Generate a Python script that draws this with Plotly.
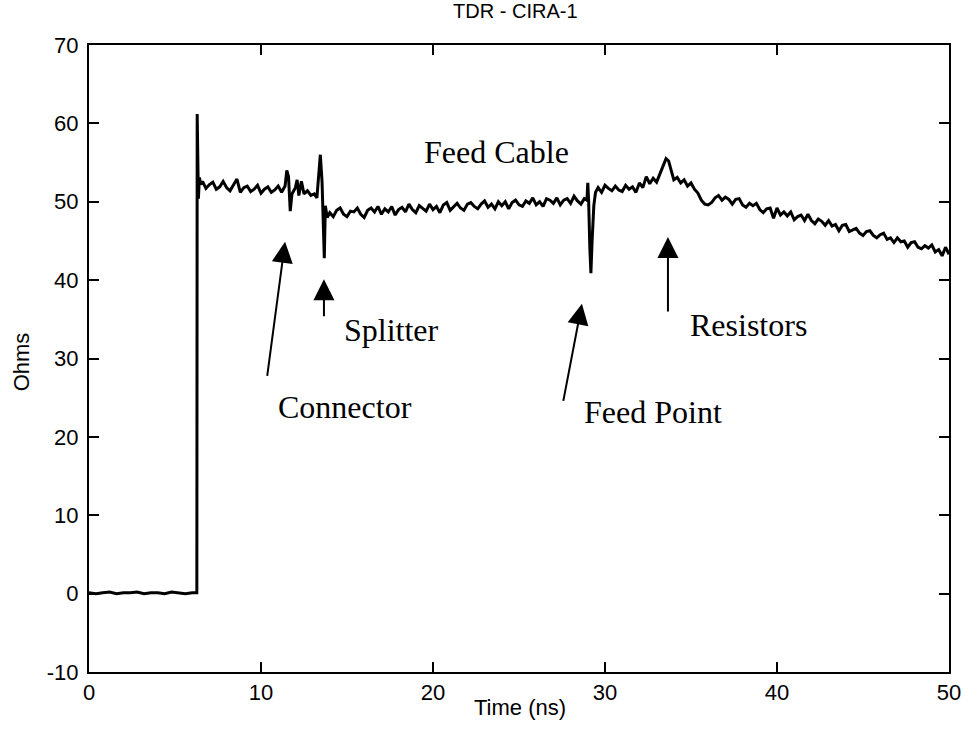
import plotly.graph_objects as go

# ── TDR trace ───────────────────────────────────────────────────────────────
time_ns = [
    0.0, 0.4, 0.8, 1.2, 1.6, 2.0, 2.4, 2.8, 3.2, 3.6, 4.0, 4.4, 4.8, 5.2, 5.6, 6.0, 6.25,
    6.27, 6.29, 6.32, 6.36, 6.42, 6.5,
    6.6, 6.8, 7.0, 7.2, 7.4, 7.6, 7.8, 8.0, 8.2, 8.4, 8.6, 8.8, 9.0, 9.2, 9.4, 9.6, 9.8,
    10.0, 10.2, 10.4, 10.6, 10.8, 11.0, 11.2,
    11.4, 11.5, 11.6, 11.7, 11.8, 12.0, 12.1, 12.2, 12.35, 12.5, 12.7, 12.9, 13.1, 13.25,
    13.35, 13.45, 13.55, 13.62, 13.68, 13.74, 13.85,
    14.0, 14.2, 14.4, 14.6, 14.8, 15.0, 15.2, 15.4, 15.6, 15.8, 16.0, 16.2, 16.4, 16.6, 16.8,
    17.0, 17.2, 17.4, 17.6, 17.8, 18.0, 18.2, 18.4, 18.6, 18.8, 19.0, 19.2, 19.4, 19.6, 19.8,
    20.0, 20.2, 20.4, 20.6, 20.8, 21.0, 21.2, 21.4, 21.6, 21.8, 22.0, 22.2, 22.4, 22.6, 22.8,
    23.0, 23.2, 23.4, 23.6, 23.8, 24.0, 24.2, 24.4, 24.6, 24.8, 25.0, 25.2, 25.4, 25.6, 25.8,
    26.0, 26.2, 26.4, 26.6, 26.8, 27.0, 27.2, 27.4, 27.6, 27.8, 28.0, 28.2, 28.4, 28.6, 28.8,
    28.95, 29.0, 29.05, 29.12, 29.18, 29.25, 29.35, 29.45,
    29.6, 29.8, 30.0, 30.2, 30.4, 30.6, 30.8, 31.0, 31.2, 31.4, 31.6, 31.8,
    32.0, 32.2, 32.4, 32.6, 32.8, 33.0, 33.2, 33.4, 33.55, 33.7, 33.85,
    34.0, 34.2, 34.4, 34.6, 34.8, 35.0, 35.2, 35.4, 35.6, 35.8,
    36.0, 36.2, 36.4, 36.6, 36.8, 37.0, 37.2, 37.4, 37.6, 37.8,
    38.0, 38.2, 38.4, 38.6, 38.8, 39.0, 39.2, 39.4, 39.6, 39.8,
    40.0, 40.2, 40.4, 40.6, 40.8, 41.0, 41.2, 41.4, 41.6, 41.8,
    42.0, 42.2, 42.4, 42.6, 42.8, 43.0, 43.2, 43.4, 43.6, 43.8,
    44.0, 44.2, 44.4, 44.6, 44.8, 45.0, 45.2, 45.4, 45.6, 45.8,
    46.0, 46.2, 46.4, 46.6, 46.8, 47.0, 47.2, 47.4, 47.6, 47.8,
    48.0, 48.2, 48.4, 48.6, 48.8, 49.0, 49.2, 49.4, 49.6, 49.8, 50.0,
]

ohms = [
    0.1, 0.0, 0.1, 0.2, 0.0, 0.1, 0.1, 0.2, 0.0, 0.1, 0.1, 0.0, 0.2, 0.1, 0.0, 0.1, 0.1,
    0.1, 61.2, 52.8, 50.4, 53.1, 52.2,
    52.6, 51.7, 52.2, 52.5, 51.6, 51.9, 52.6, 51.8, 51.4, 52.1, 52.9, 51.2, 51.8, 52.0, 51.3,
    51.6, 52.1, 51.1, 51.6, 51.9, 51.2, 51.5, 52.0, 51.2,
    52.0, 54.0, 53.2, 48.8, 51.0, 51.8, 52.8, 50.8, 52.6, 51.0, 51.4, 50.8, 51.0, 50.5,
    53.0, 56.0, 52.5, 48.0, 42.8, 49.5, 48.0,
    48.6, 48.1, 48.9, 49.2, 48.4, 48.1, 48.8, 48.7, 49.2, 48.4, 48.0, 48.9, 49.2, 48.7, 49.4,
    48.4, 49.1, 48.7, 49.4, 48.3, 49.0, 49.3, 48.7, 49.7, 49.0, 48.6, 49.5, 49.2, 48.8, 49.7,
    49.0, 49.4, 48.6, 49.6, 49.9, 48.9, 49.3, 49.8, 49.2, 48.9, 49.7, 49.9, 49.4, 49.1, 49.7,
    50.1, 49.3, 49.7, 49.1, 50.0, 49.5, 50.0, 49.1, 49.9, 50.2, 49.6, 49.4, 50.1, 49.8, 50.5,
    49.6, 50.0, 49.4, 50.4, 50.2, 49.8, 50.5, 49.6, 50.2, 50.4, 49.8, 50.7, 50.1, 49.7, 50.4,
    50.2, 52.4, 50.0, 44.0, 40.9, 45.0, 49.5, 51.2,
    51.8, 51.2, 52.1, 51.7, 51.4, 52.0, 51.5, 51.3, 52.1, 51.6, 51.9, 51.2,
    52.4, 51.8, 53.2, 52.3, 53.0, 52.5, 53.6, 54.6, 55.5, 55.2, 53.8,
    52.8, 53.1, 52.4, 52.8, 52.0, 52.4, 51.6, 51.1, 50.2, 49.7,
    49.6, 49.9, 50.5, 50.8, 50.2, 50.6, 50.3, 49.7, 50.3, 50.4,
    49.6, 49.3, 49.8, 49.5, 49.8, 49.0, 48.6, 49.1, 49.2, 47.9,
    49.2, 48.3, 48.7, 48.2, 48.7, 47.7, 48.1, 48.3, 47.6, 48.4,
    47.6, 47.2, 47.8, 47.5, 47.0, 47.6, 46.9, 47.1, 46.3, 47.0,
    47.1, 46.2, 46.4, 46.6, 46.0, 45.7, 46.2, 46.3, 45.7, 45.4,
    45.8, 46.0, 45.2, 45.4, 44.8, 45.4, 44.9, 45.0, 44.2, 44.8,
    44.9, 44.2, 44.0, 44.4, 44.1, 44.5, 43.6, 43.9, 43.1, 44.2, 43.3,
]

# ── Callouts: (label, arrow tip x/y, arrow tail x/y, label x/y, anchor) ───────
callouts = [
    ("Connector",  11.40, 44.9, 10.35, 27.6, 14.9, 23.8, "center"),
    ("Splitter",   13.66, 40.1, 13.66, 35.2, 17.6, 33.6, "center"),
    ("Feed Point", 28.66, 37.0, 27.56, 24.4, 32.8, 23.2, "center"),
    ("Resistors",  33.66, 45.5, 33.66, 35.8, 34.8, 34.3, "left"),
]
y_ticks = [-10, 0, 10, 20, 30, 40, 50, 60, 70]
x_ticks = [0, 10, 20, 30, 40, 50]

SERIF = "Liberation Serif, Times New Roman, serif"
SANS = "Liberation Sans, Arial, sans-serif"

fig = go.Figure()
fig.add_trace(go.Scatter(
    x=time_ns, y=ohms, mode="lines",
    line=dict(color="black", width=3),
    showlegend=False, hoverinfo="skip",
))

annotations = []
for label, tx, ty, ax, ay, lx, ly, anchor in callouts:
    annotations.append(dict(
        x=tx, y=ty, ax=ax, ay=ay, xref="x", yref="y", axref="x", ayref="y",
        text="", showarrow=True, arrowhead=2, arrowsize=2.1, arrowwidth=2,
        arrowcolor="black", standoff=0,
    ))
    annotations.append(dict(
        x=lx, y=ly, xref="x", yref="y", text=label, showarrow=False,
        xanchor=anchor, yanchor="middle",
        font=dict(family=SERIF, size=32, color="black"),
    ))

annotations.append(dict(
    x=23.7, y=56.4, xref="x", yref="y", text="Feed Cable", showarrow=False,
    xanchor="center", yanchor="middle",
    font=dict(family=SERIF, size=32, color="black"),
))
annotations.append(dict(
    x=-0.079, y=0.494, xref="paper", yref="paper", text="Ohms", textangle=-90,
    xanchor="center", yanchor="middle",
    showarrow=False, font=dict(family=SANS, size=22, color="black"),
))
annotations.append(dict(
    x=0.501, y=-0.056, xref="paper", yref="paper", text="Time (ns)",
    xanchor="center", yanchor="middle",
    showarrow=False, font=dict(family=SANS, size=22, color="black"),
))

axis_style = dict(
    showgrid=False, zeroline=False, automargin=False,
    showline=True, linecolor="black", linewidth=2, mirror="allticks",
    ticks="inside", ticklen=10, tickwidth=2, tickcolor="black",
    tickfont=dict(family=SANS, size=22, color="black"),
)

fig.update_layout(
    width=965, height=742,
    paper_bgcolor="white", plot_bgcolor="white",
    margin=dict(l=89, r=16, t=45, b=70, autoexpand=False),
    title=dict(
        text="TDR - CIRA-1", x=0.534, y=0.995, xanchor="center", yanchor="top",
        pad=dict(t=0, b=0),
        font=dict(family=SANS, size=20, color="black"),
    ),
    xaxis=dict(range=[0, 50], tickvals=x_ticks, **axis_style),
    yaxis=dict(range=[-10, 70], tickvals=y_ticks, ticklabelstandoff=4,
               ticktext=[str(v) for v in y_ticks], **axis_style),
    annotations=annotations,
)

# drop the default 8px body margin so the figure fills the window exactly
fig.write_html(
    "out.html",
    config={"displayModeBar": False},
    post_script="document.body.style.margin = '0';",
)
